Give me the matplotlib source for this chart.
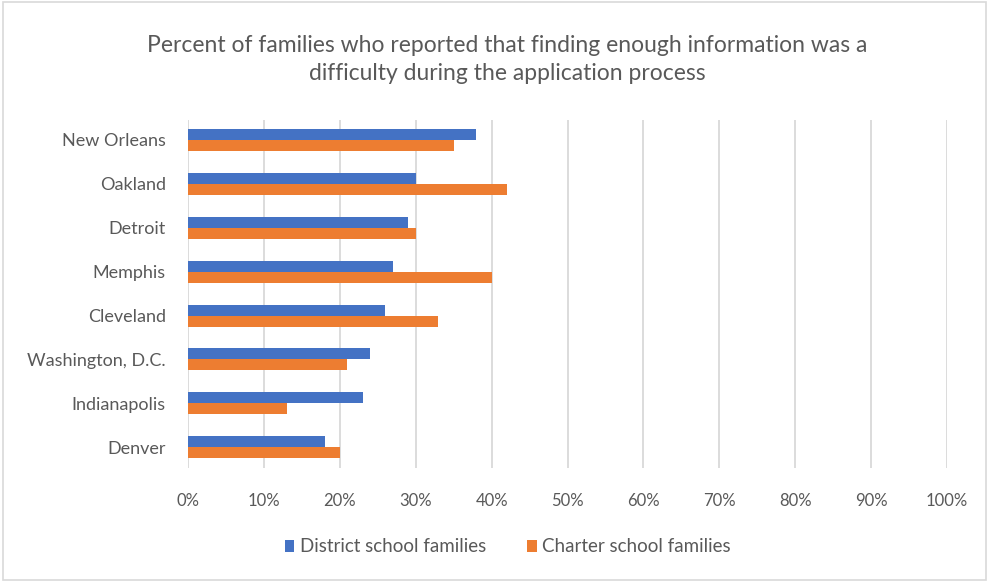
import numpy as np
import matplotlib
matplotlib.use("Agg")
import matplotlib.pyplot as plt
from matplotlib.patches import Rectangle
from matplotlib.ticker import PercentFormatter

cities = ["New Orleans", "Oakland", "Detroit", "Memphis", "Cleveland",
          "Washington, D.C.", "Indianapolis", "Denver"]
district = [38, 30, 29, 27, 26, 24, 23, 18]
charter = [35, 42, 30, 40, 33, 21, 13, 20]
xticks = [0, 10, 20, 30, 40, 50, 60, 70, 80, 90, 100]

plt.rcParams['font.family'] = ['Lato', 'DejaVu Sans']
grey = '#595959'

fig = plt.figure(figsize=(9.89, 5.82), dpi=100)
ax = fig.add_axes([188 / 989, 1 - 468 / 582, (947 - 188) / 989, 348 / 582])

y = np.arange(len(cities))
h = 0.25
ax.barh(y - h / 2, district, height=h, color='#4472C4', label='District school families', zorder=3)
ax.barh(y + h / 2, charter, height=h, color='#ED7D31', label='Charter school families', zorder=3)

ax.set_ylim(7.47, -0.45)
ax.set_xlim(0, 100)
ax.set_yticks(y)
ax.set_yticklabels(cities)
ax.set_xticks(xticks)
ax.xaxis.set_major_formatter(PercentFormatter(decimals=0))
ax.tick_params(length=0, colors=grey)
ax.tick_params(axis='x', pad=18, labelsize=12)
ax.tick_params(axis='y', pad=16, labelsize=13)
ax.grid(axis='x', color='#d9d9d9', linewidth=1.3, zorder=0)
for s in ax.spines.values():
    s.set_visible(False)

fig.text(0.513, 1 - 45 / 582, "Percent of families who reported that finding enough information was a",
         ha='center', va='center', fontsize=16.5, color=grey)
fig.text(0.513, 1 - 74 / 582, "difficulty during the application process",
         ha='center', va='center', fontsize=16.5, color=grey)

leg = fig.legend(loc='center', bbox_to_anchor=(508 / 989, 1 - 547 / 582), ncol=2,
                 frameon=False, fontsize=13.5, handlelength=0.5, handleheight=0.6,
                 handletextpad=0.3, columnspacing=2.2)
for t in leg.get_texts():
    t.set_color(grey)

fig.patches.append(Rectangle((0.003, 0.003), 0.994, 0.994, transform=fig.transFigure,
                             fill=False, edgecolor='#d9d9d9', linewidth=1.2))

fig.savefig("out.png", dpi=100)
